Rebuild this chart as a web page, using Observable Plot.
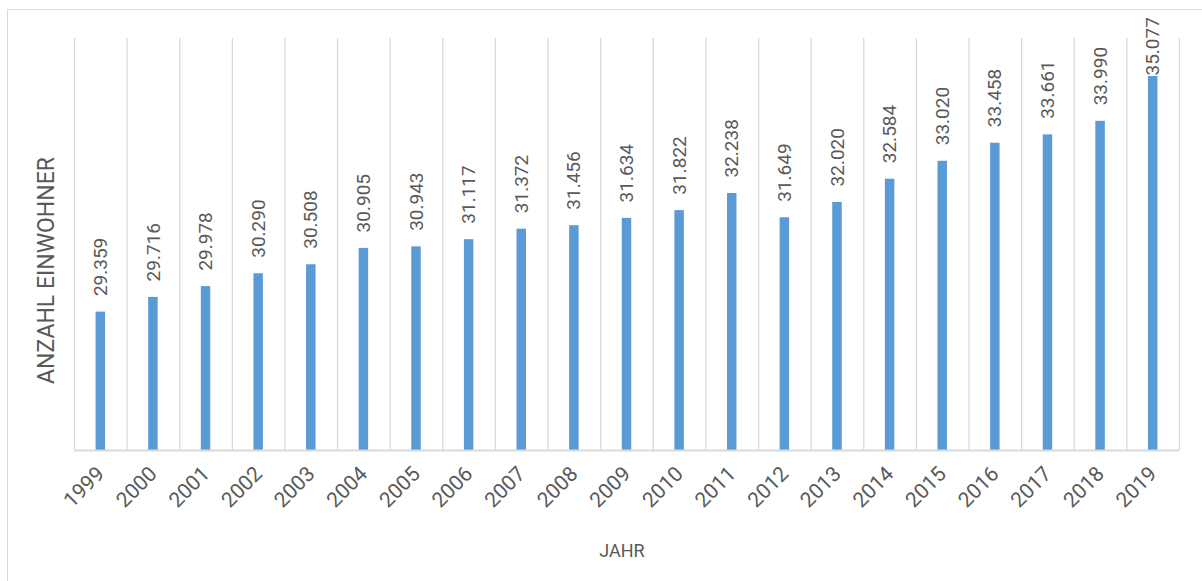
<!DOCTYPE html>
<html>
<head>
<meta charset="utf-8">
<script src="https://cdn.jsdelivr.net/npm/d3@7"></script>
<script src="https://cdn.jsdelivr.net/npm/@observablehq/plot@0.6"></script>
<style>
  html, body { margin: 0; padding: 0; background: #fff; }
  #wrap { position: relative; width: 1202px; height: 581px; overflow: hidden; }
  #border { position: absolute; left: 7px; top: 9px; width: 1210px; height: 600px; border: 1px solid #d9d9d9; box-sizing: border-box; }
  #chart { position: absolute; left: 0; top: 0; }
</style>
</head>
<body>
<div id="wrap"><div id="border"></div><div id="chart"></div></div>
<script>
const years = ["1999","2000","2001","2002","2003","2004","2005","2006","2007","2008","2009","2010","2011","2012","2013","2014","2015","2016","2017","2018","2019"];
const einwohner = [29359,29716,29978,30290,30508,30905,30943,31117,31372,31456,31634,31822,32238,31649,32020,32584,33020,33458,33661,33990,35077];
const yDomain = [26000, 36000];
const xTitle = "JAHR";
const yTitle = "ANZAHL EINWOHNER";

const data = years.map((y, i) => ({year: y, value: einwohner[i]}));
const de = d3.formatLocale({decimal: ",", thousands: ".", grouping: [3], currency: ["", " €"]});
const fmt = de.format(",d");

const W = 1202, H = 581, ml = 74, mr = 23, mt = 38, mb = 131;
const step = (W - ml - mr) / years.length;
const txt = "#595959", grid = "#d9d9d9", blue = "#5b9bd5";
const font = "Roboto, 'Open Sans', sans-serif";

const chart = Plot.plot({
  width: W, height: H,
  marginLeft: ml, marginRight: mr, marginTop: mt, marginBottom: mb,
  style: {fontFamily: font, fontSize: "18px", color: txt, background: "transparent", overflow: "visible"},
  x: {type: "band", domain: years, paddingInner: 0.82, paddingOuter: 0.41, round: false, axis: null},
  y: {domain: yDomain, axis: null},
  marks: [
    Plot.ruleX(years, {x: d => d, dx: -step / 2, stroke: grid, strokeWidth: 1.3}),
    Plot.ruleX(years.slice(-1), {x: d => d, dx: step / 2, stroke: grid, strokeWidth: 1.3}),
    Plot.barY(data, {x: "year", y1: yDomain[0], y2: "value", fill: blue}),
    Plot.ruleY([yDomain[0]], {stroke: grid, strokeWidth: 2}),
    Plot.text(data.filter(d => d.value < 35000), {x: "year", y: "value", text: d => fmt(d.value), rotate: -90, textAnchor: "start", lineAnchor: "middle", dy: -16, fill: txt, fontSize: 19}),
    Plot.text(data.filter(d => d.value >= 35000), {x: "year", y: "value", text: d => fmt(d.value), rotate: -90, textAnchor: "start", lineAnchor: "middle", dy: -1, fill: txt, fontSize: 19}),
    Plot.text(years, {x: d => d, frameAnchor: "bottom", text: d => d, rotate: -45, textAnchor: "end", lineAnchor: "middle", dy: 20, fill: txt, fontSize: 21}),
    Plot.text([yTitle], {frameAnchor: "left", rotate: -90, textAnchor: "middle", dx: -28, dy: 26, fill: txt, fontSize: 23, lineAnchor: "middle"}),
    Plot.text([xTitle], {frameAnchor: "bottom", textAnchor: "middle", dy: 101, dx: -5, fill: txt, fontSize: 18, lineAnchor: "middle"})
  ]
});
document.getElementById("chart").appendChild(chart);
</script>
</body>
</html>
